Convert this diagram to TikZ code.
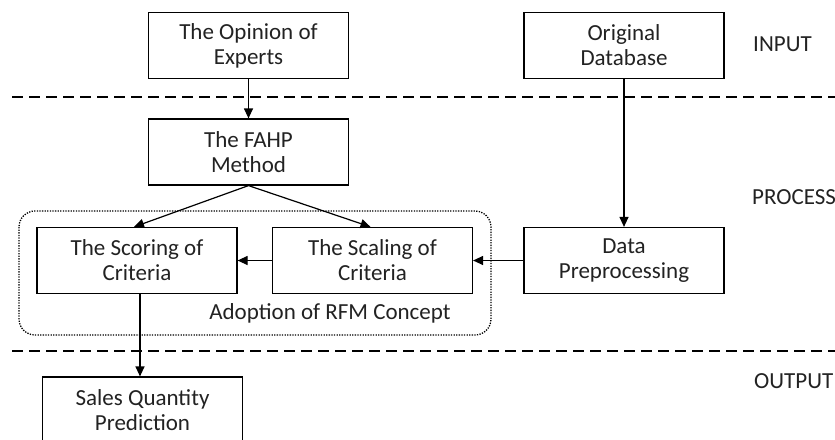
\documentclass[tikz,border=0pt]{standalone}
\usepackage{fontspec}
\setmainfont{Carlito}
\usetikzlibrary{arrows.meta}
\definecolor{txt}{HTML}{222222}
\begin{document}
\begin{tikzpicture}[x=1pt,y=-1pt,
  font=\fontsize{23pt}{25pt}\selectfont,
  box/.style={draw=black,line width=1.2pt,minimum width=200pt,minimum height=66pt,inner sep=0pt,align=center,text=txt},
  conn/.style={line width=1.2pt,-{Triangle[length=10pt,width=9pt]}},
  sep/.style={line width=1.4pt,dash pattern=on 11pt off 6pt},
  lbl/.style={anchor=west,text=txt,inner sep=0pt}]
\useasboundingbox (0,0) rectangle (835,439);
\node[box] (op) at (248.5,45.5) {The Opinion of\\Experts};
\node[box] (db) at (624,45.5) {Original\\Database};
\node[box] (fahp) at (248.5,152) {The FAHP\\Method};
\node[box] (sco) at (137,260.5) {The Scoring of\\Criteria};
\node[box] (sca) at (372.5,260.5) {The Scaling of\\Criteria};
\node[box] (dp) at (624,260.5) {Data\\Preprocessing};
\node[box] (sal) at (142.5,410) {Sales Quantity\\Prediction};
\draw[line width=1.3pt,dash pattern=on 1.3pt off 1.3pt,rounded corners=16pt] (19,211) rectangle (491,335);
\node[text=txt,inner sep=0pt] (rfm) at (330,313) {Adoption of RFM Concept};
\coordinate (d1a) at (12,97); \coordinate (d1b) at (840,97);
\coordinate (d2a) at (12,351); \coordinate (d2b) at (840,351);
\draw[sep] (d1a) -- (d1b);
\draw[sep] (d2a) -- (d2b);
\node[lbl] (in) at (753,44) {INPUT};
\node[lbl] (pr) at (752,197) {PROCESS};
\node[lbl] (out) at (754,381) {OUTPUT};
\draw[conn] (op) -- (fahp);
\draw[conn] (db) -- (dp);
\draw[conn] (fahp.south) -- ([xshift=-3pt]sco.north);
\draw[conn] (fahp.south) -- ([xshift=-2pt]sca.north);
\draw[conn] (dp) -- (sca);
\draw[conn] (sca) -- (sco);
\draw[conn] (sco.south -| sal.north) ++(-2.5,0) -- ([xshift=-2.5pt]sal.north);
\end{tikzpicture}
\end{document}
